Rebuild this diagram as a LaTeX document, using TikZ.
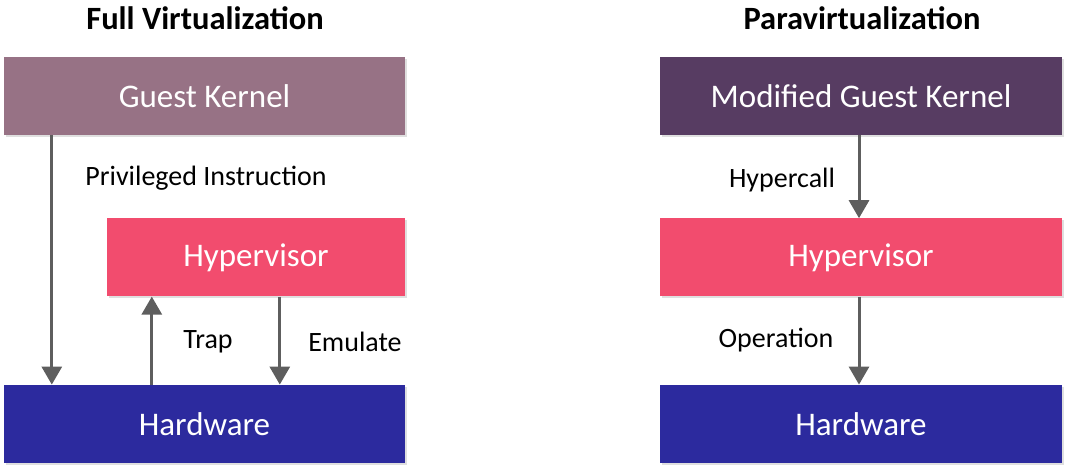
\documentclass[tikz,border=0pt]{standalone}
\usepackage{fontspec}
\setmainfont{Carlito}
\usetikzlibrary{arrows.meta,positioning,shadows}

\definecolor{guestcol}{HTML}{977285}
\definecolor{modcol}{HTML}{573C62}
\definecolor{hypcol}{HTML}{F24C6E}
\definecolor{hwcol}{HTML}{2C2A9E}
\definecolor{arrcol}{HTML}{5E5E5E}

\begin{document}
\begin{tikzpicture}[x=1pt,y=-1pt,
  layer/.style={minimum height=78pt,inner sep=0pt,text=white,font=\fontsize{33}{34}\selectfont,
                drop shadow={opacity=0.25,shadow xshift=2pt,shadow yshift=-2pt}},
  title/.style={font=\fontsize{32.5}{34}\selectfont\bfseries},
  lbl/.style={font=\fontsize{28}{29}\selectfont},
  flow/.style={draw=arrcol,line width=3pt,-{Triangle[width=20pt,length=18pt]}}]

\useasboundingbox (0,0) rectangle (1068,473);

% full virtualization
\node[title] (tfull) at (205,18) {Full Virtualization};
\node[layer,fill=guestcol,minimum width=401pt] (gkL) at (204.5,96) {Guest Kernel};
\node[layer,fill=hypcol,minimum width=298pt] (hypL) [below=83pt of gkL.south east,anchor=north east] {Hypervisor};
\node[layer,fill=hwcol,minimum width=401pt] (hwL) [below=88pt of gkL.south |- hypL.south] {Hardware};

% paravirtualization
\node[title] (tpara) at (862,18) {Paravirtualization};
\node[layer,fill=modcol,minimum width=402pt] (gkR) at (861,96) {Modified Guest Kernel};
\node[layer,fill=hypcol,minimum width=402pt] (hypR) [below=83pt of gkR] {Hypervisor};
\node[layer,fill=hwcol,minimum width=402pt] (hwR) [below=88pt of hypR] {Hardware};

% labels
\node[lbl] (lpriv) at (206,178) {Privileged Instruction};
\node[lbl] (ltrap) at (208,342) {Trap};
\node[lbl] (lemu) at (355,342) {Emulate};
\node[lbl] (lhyper) at (782,180) {Hypercall};
\node[lbl] (lop) at (776,340) {Operation};

% arrows
\draw[flow] ([xshift=48pt]gkL.south west) -- ([xshift=48pt]hwL.north west);
\draw[flow] ([xshift=148pt]hwL.north west) -- ([xshift=45pt]hypL.south west);
\draw[flow] ([xshift=173pt]hypL.south west) -- ([xshift=276pt]hwL.north west);
\draw[flow] ([xshift=-2pt]gkR.south) -- ([xshift=-2pt]hypR.north);
\draw[flow] ([xshift=-2pt]hypR.south) -- ([xshift=-2pt]hwR.north);

\end{tikzpicture}
\end{document}
